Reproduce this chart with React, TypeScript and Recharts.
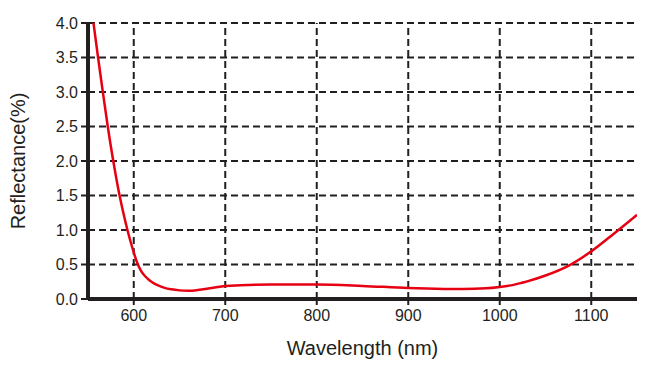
import { LineChart, Line, XAxis, YAxis, CartesianGrid, ReferenceLine } from "recharts";

const wavelengths = [
  556, 561, 566.2, 571.6, 574.5, 577.6, 580.9, 584.5, 588.6, 593.1, 598.3, 604.5, 607.5, 611,
  615.5, 620.5, 626, 633, 641, 650, 660, 670, 685, 700, 750, 800, 850, 900, 930, 960, 985, 1000,
  1015, 1030, 1050, 1075, 1100, 1125, 1150,
];
const reflectance = [
  4.0, 3.5, 3.0, 2.5, 2.25, 2.0, 1.75, 1.5, 1.25, 1.0, 0.75, 0.5, 0.42, 0.35, 0.29, 0.24, 0.2,
  0.165, 0.14, 0.125, 0.12, 0.13, 0.16, 0.19, 0.21, 0.21, 0.19, 0.16, 0.15, 0.145, 0.155, 0.175,
  0.205, 0.255, 0.34, 0.48, 0.69, 0.95, 1.22,
];
const xTicks = [600, 700, 800, 900, 1000, 1100];
const yTicks = [0, 0.5, 1.0, 1.5, 2.0, 2.5, 3.0, 3.5, 4.0];

const ink = "#231f20";
const font = "'Liberation Sans', Arial, sans-serif";

export default function App() {
  const data = wavelengths.map((wl, i) => ({ wl, r: reflectance[i] }));

  return (
    <div style={{ position: "absolute", top: 0, left: 0, background: "#fff" }}>
      <LineChart width={662} height={366} data={data} margin={{ top: 23, right: 25, left: 0, bottom: 5 }}>
        <CartesianGrid
          stroke={ink}
          strokeWidth={2}
          strokeDasharray="7 4"
          vertical={false}
          horizontalValues={yTicks}
        />
        {xTicks.map((t) => (
          <ReferenceLine key={t} x={t} stroke={ink} strokeWidth={2} strokeDasharray="7 4" />
        ))}
        <XAxis
          dataKey="wl"
          type="number"
          domain={[550, 1150]}
          ticks={xTicks}
          allowDataOverflow
          height={62}
          axisLine={{ stroke: ink, strokeWidth: 4 }}
          tickLine={{ stroke: ink, strokeWidth: 2 }}
          tickSize={6}
          tickMargin={5}
          tick={{ fill: ink, fontSize: 16, fontFamily: font }}
          label={{ value: "Wavelength (nm)", position: "insideBottom", offset: 6, fill: ink, fontSize: 20, fontFamily: font }}
        />
        <YAxis
          type="number"
          domain={[0, 4]}
          ticks={yTicks}
          width={88}
          axisLine={{ stroke: ink, strokeWidth: 4 }}
          tickLine={{ stroke: ink, strokeWidth: 2 }}
          tickSize={7}
          tickMargin={3}
          tickFormatter={(v: number) => v.toFixed(1)}
          tick={{ fill: ink, fontSize: 16, fontFamily: font }}
          label={{ value: "Reflectance(%)", angle: -90, position: "insideLeft", offset: 18, fill: ink, fontSize: 20, fontFamily: font, style: { textAnchor: "middle" } }}
        />
        <Line type="monotone" dataKey="r" stroke="#e60012" strokeWidth={2.5} dot={false} isAnimationActive={false} />
      </LineChart>
    </div>
  );
}
